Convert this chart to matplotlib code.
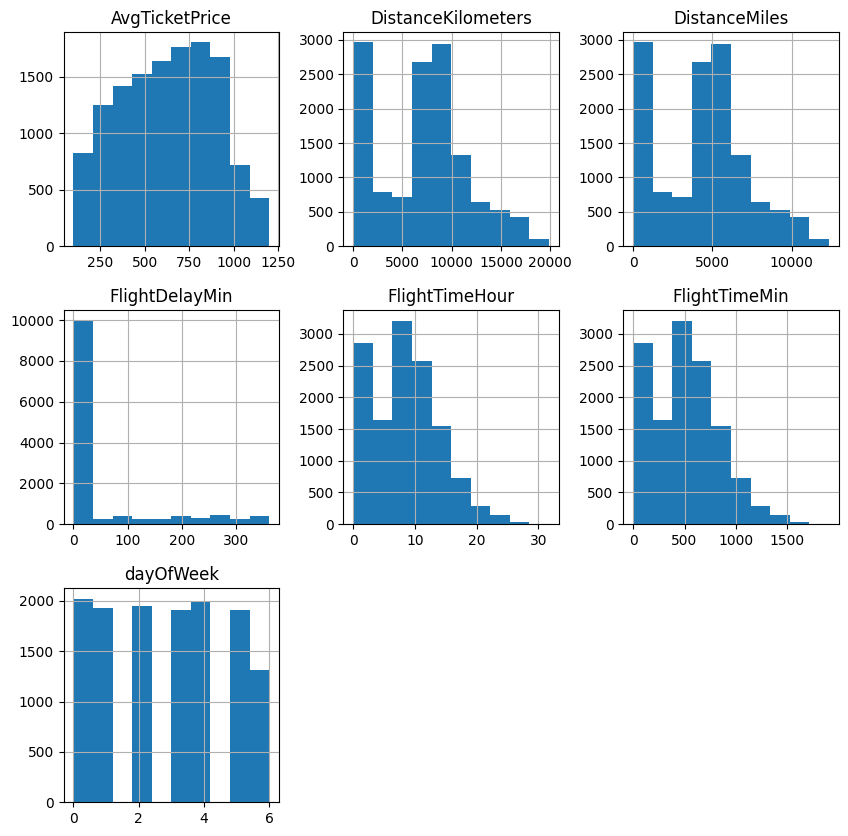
import numpy as np
import matplotlib
matplotlib.use("Agg")
import matplotlib.pyplot as plt

# -----------------------------------------------------------------------------------
# 1. Datos (10 bins por columna)

columnas = ["AvgTicketPrice", "DistanceKilometers", "DistanceMiles",
            "FlightDelayMin", "FlightTimeHour", "FlightTimeMin", "dayOfWeek"]

rango_avg_ticket = [100.0, 1199.0]
cuentas_avg_ticket = [825, 1247, 1415, 1520, 1635, 1758, 1802, 1670, 722, 428]

rango_dist_km = [0.0, 19881.0]
cuentas_dist_km = [2961, 781, 719, 2672, 2932, 1326, 646, 531, 424, 101]

rango_dist_mi = [0.0, 12354.0]
cuentas_dist_mi = [2961, 781, 719, 2672, 2932, 1326, 646, 531, 424, 101]

rango_delay = [0.0, 360.0]
cuentas_delay = [9980, 240, 385, 240, 240, 385, 290, 435, 240, 385]

rango_hora = [0.0, 31.7]
cuentas_hora = [2848, 1636, 3210, 2565, 1542, 724, 295, 152, 42, 3]

rango_min = [0.0, 1902.0]
cuentas_min = [2848, 1636, 3210, 2565, 1542, 724, 295, 152, 42, 3]

rango_dia = [0.0, 6.0]
cuentas_dia = [2023, 1927, 0, 1947, 0, 1907, 1997, 0, 1907, 1309]

rangos = [rango_avg_ticket, rango_dist_km, rango_dist_mi, rango_delay,
          rango_hora, rango_min, rango_dia]
cuentas = [cuentas_avg_ticket, cuentas_dist_km, cuentas_dist_mi, cuentas_delay,
           cuentas_hora, cuentas_min, cuentas_dia]

# -----------------------------------------------------------------------------------
# 2. Histogramas estilo DataFrame.hist()

fig, axes = plt.subplots(3, 3, figsize=(10, 10))
axes = axes.ravel()

for ax, nombre, rango, cuenta in zip(axes, columnas, rangos, cuentas):
    bordes = np.linspace(rango[0], rango[1], len(cuenta) + 1)
    ax.hist(bordes[:-1], bins=bordes, weights=cuenta)
    ax.set_title(nombre)
    ax.grid(True)

for ax in axes[len(columnas):]:
    ax.set_visible(False)

fig.subplots_adjust(wspace=0.3, hspace=0.3)
plt.savefig("out.png", dpi=100, bbox_inches="tight")
